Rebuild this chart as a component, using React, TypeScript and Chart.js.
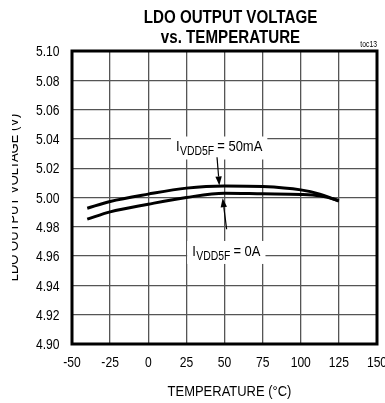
import React, { useEffect, useRef } from "react";
import { Chart, registerables } from "chart.js";

Chart.register(...registerables);

// ---- data ----
const temperatures = [-40, -25, 0, 25, 50, 75, 100, 112.5, 125];
const vout50mA = [4.9927, 4.9973, 5.0023, 5.0064, 5.0079, 5.0075, 5.0052, 5.0023, 4.9975];
const vout0A = [4.9852, 4.9902, 4.9954, 5.0, 5.0029, 5.0025, 5.0021, 5.0011, 4.998];

const xMin = -50;
const xMax = 150;
const xStep = 25;
const yMin = 4.9;
const yMax = 5.1;
const yStep = 0.02;

const titleLines = ["LDO OUTPUT VOLTAGE", "vs. TEMPERATURE"];
const xTitle = "TEMPERATURE (°C)";
const yTitle = "LDO OUTPUT VOLTAGE (V)";
const tocLabel = "toc13";

const annLabels = ["I", "I"];
const annSubs = ["VDD5F", "VDD5F"];
const annRests = [" = 50mA", " = 0A"];
const annLabelT = [46.5, 51.2];
const annLabelV = [5.0314, 4.9601];
const annFromT = [45.1, 51.4];
const annFromV = [5.0275, 4.9783];
const annToT = [46.6, 48.8];
const annToV = [5.0082, 4.9995];

const FONT = "'Liberation Sans', Arial, sans-serif";
const SX = 0.865; // condensed look of the source lettering

function txt(
  ctx: CanvasRenderingContext2D,
  s: string,
  x: number,
  y: number,
  font: string,
  align: CanvasTextAlign,
  sx: number = SX
) {
  ctx.save();
  ctx.translate(x, y);
  ctx.scale(sx, 1);
  ctx.font = font;
  ctx.textAlign = align;
  ctx.textBaseline = "alphabetic";
  ctx.fillText(s, 0, 0);
  ctx.restore();
}

function wid(ctx: CanvasRenderingContext2D, s: string, font: string, sx: number = SX) {
  ctx.save();
  ctx.font = font;
  const w = ctx.measureText(s).width * sx;
  ctx.restore();
  return w;
}

const decorPlugin = {
  id: "decor",
  afterDraw(chart: any) {
    const ctx: CanvasRenderingContext2D = chart.ctx;
    const area = chart.chartArea;
    const xs = chart.scales.x;
    const ys = chart.scales.y;
    ctx.save();

    // frame
    ctx.strokeStyle = "#000";
    ctx.lineWidth = 3;
    ctx.strokeRect(area.left, area.top, area.right - area.left, area.bottom - area.top);

    ctx.fillStyle = "#000";
    const tickFont = `14px ${FONT}`;
    // x tick labels
    for (const t of xs.ticks) {
      txt(ctx, String(t.value), xs.getPixelForValue(t.value), 367, tickFont, "center");
    }
    // y tick labels
    for (const t of ys.ticks) {
      txt(ctx, Number(t.value).toFixed(2), 59.5, ys.getPixelForValue(t.value) + 5.2, tickFont, "right");
    }

    // annotations
    const mainF = `15px ${FONT}`;
    const subF = `12px ${FONT}`;
    for (let i = 0; i < annLabels.length; i++) {
      const cx = xs.getPixelForValue(annLabelT[i]);
      const by = ys.getPixelForValue(annLabelV[i]);
      const w1 = wid(ctx, annLabels[i], mainF);
      const w2 = wid(ctx, annSubs[i], subF);
      const w3 = wid(ctx, annRests[i], mainF);
      const total = w1 + w2 + w3;
      const x0 = cx - total / 2;
      ctx.fillStyle = "#fff";
      ctx.fillRect(x0 - 5, by - 15, total + 10, 23);
      ctx.fillStyle = "#000";
      txt(ctx, annLabels[i], x0, by, mainF, "left");
      txt(ctx, annSubs[i], x0 + w1 + 0.5, by + 4, subF, "left");
      txt(ctx, annRests[i], x0 + w1 + w2, by, mainF, "left");

      // arrow
      const fx = xs.getPixelForValue(annFromT[i]);
      const fy = ys.getPixelForValue(annFromV[i]);
      const tx = xs.getPixelForValue(annToT[i]);
      const ty = ys.getPixelForValue(annToV[i]);
      const ang = Math.atan2(ty - fy, tx - fx);
      const hl = 9;
      const hw = 3.2;
      const bx = tx - hl * Math.cos(ang);
      const byy = ty - hl * Math.sin(ang);
      ctx.strokeStyle = "#000";
      ctx.lineWidth = 1.2;
      ctx.beginPath();
      ctx.moveTo(fx, fy);
      ctx.lineTo(bx, byy);
      ctx.stroke();
      ctx.beginPath();
      ctx.moveTo(tx, ty);
      ctx.lineTo(bx + hw * Math.sin(ang), byy - hw * Math.cos(ang));
      ctx.lineTo(bx - hw * Math.sin(ang), byy + hw * Math.cos(ang));
      ctx.closePath();
      ctx.fill();
    }

    // chart title
    const titleX = (area.left + area.right) / 2 + 6;
    ctx.fillStyle = "#000";
    const titleF = `bold 17.5px ${FONT}`;
    txt(ctx, titleLines[0], titleX, 22.7, titleF, "center");
    txt(ctx, titleLines[1], titleX, 43.3, titleF, "center");

    // toc label
    txt(ctx, tocLabel, area.right, 47, `8.5px ${FONT}`, "right", 0.8);

    // x title
    txt(ctx, xTitle, (area.left + area.right) / 2 + 5, 395.5, `15px ${FONT}`, "center");

    // y title (clipped at the left edge as in the source)
    ctx.save();
    ctx.translate(18.3, (area.top + area.bottom) / 2);
    ctx.rotate(-Math.PI / 2);
    txt(ctx, yTitle, 0, 0, `15px ${FONT}`, "center");
    ctx.restore();
    ctx.fillStyle = "#fff";
    ctx.fillRect(0, area.top, 12, area.bottom - area.top);

    ctx.restore();
  },
};

export default function App() {
  const ref = useRef<HTMLCanvasElement | null>(null);

  useEffect(() => {
    if (!ref.current) return;
    const mk = (vals: number[]) => temperatures.map((t, i) => ({ x: t, y: vals[i] }));
    const chart = new Chart(ref.current, {
      type: "line",
      data: {
        datasets: [
          {
            label: "IVDD5F = 50mA",
            data: mk(vout50mA),
            borderColor: "#000",
            borderWidth: 3,
            pointRadius: 0,
            cubicInterpolationMode: "monotone",
            fill: false,
          },
          {
            label: "IVDD5F = 0A",
            data: mk(vout0A),
            borderColor: "#000",
            borderWidth: 3,
            pointRadius: 0,
            cubicInterpolationMode: "monotone",
            fill: false,
          },
        ],
      },
      options: {
        animation: false,
        responsive: false,
        devicePixelRatio: 1,
        layout: { padding: { top: 51, right: 8, bottom: 0, left: 0 } },
        plugins: {
          legend: { display: false },
          tooltip: { enabled: false },
          title: { display: false },
        },
        scales: {
          x: {
            type: "linear",
            min: xMin,
            max: xMax,
            afterFit: (s: any) => {
              s.height = 59;
              s.paddingLeft = 0;
              s.paddingRight = 0;
            },
            ticks: { stepSize: xStep, display: false, autoSkip: false },
            grid: { color: "#555", lineWidth: 1.3, drawTicks: false, tickLength: 0 },
            border: { display: false },
          },
          y: {
            type: "linear",
            min: yMin,
            max: yMax,
            afterFit: (s: any) => {
              s.width = 72;
              s.paddingTop = 0;
              s.paddingBottom = 0;
            },
            ticks: { stepSize: yStep, display: false, autoSkip: false },
            grid: { color: "#555", lineWidth: 1.3, drawTicks: false, tickLength: 0 },
            border: { display: false },
          },
        },
      },
      plugins: [decorPlugin],
    });
    return () => chart.destroy();
  }, []);

  return (
    <div style={{ position: "fixed", left: 0, top: 0, width: 385, height: 403, background: "#fff" }}>
      <canvas ref={ref} width={385} height={403} style={{ width: 385, height: 403, display: "block" }} />
    </div>
  );
}
